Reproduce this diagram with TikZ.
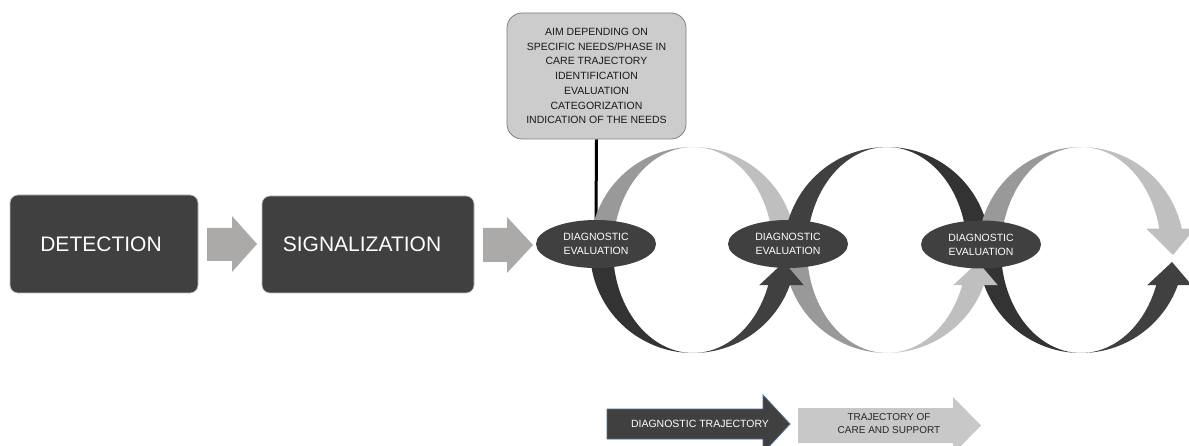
\documentclass[tikz,border=0pt]{standalone}
\usepackage{fontspec}
\setmainfont{Liberation Sans}
\usetikzlibrary{shapes.geometric,backgrounds}
\definecolor{boxdark}{HTML}{404040}
\definecolor{rdark}{HTML}{333333}
\definecolor{rmid}{HTML}{999999}
\definecolor{rlight}{HTML}{BFBFBF}
\definecolor{blockarrow}{HTML}{ABAAA9}
\definecolor{aimfill}{HTML}{CCCCCC}
\definecolor{aimdraw}{HTML}{7F7F7F}
\definecolor{boxedge}{HTML}{BFBFBF}
\definecolor{trajedge}{HTML}{4E6E8E}
\definecolor{carefill}{HTML}{C8C8C8}
% crescent segment: cx, t1, t2, colour
\newcommand{\crsseg}[4]{%
  \fill[#4] plot[domain=#2:#3,samples=40,variable=\t] ({#1+103*cos(\t)},{250-103*sin(\t)})
    -- plot[domain=#3:#2,samples=40,variable=\t] ({#1+80*cos(\t)},{250-103*sin(\t)}) -- cycle;}
% upper half ending with a head pointing down: cx, colour
\newcommand{\crstop}[2]{%
  \fill[#2] plot[domain=90:12,samples=40,variable=\t] ({#1+103*cos(\t)},{250-103*sin(\t)})
    -- ({#1+103*cos(12)+13},{250-103*sin(12)}) -- ({#1+92},255)
    -- ({#1+80*cos(12)-13},{250-103*sin(12)})
    -- plot[domain=12:90,samples=40,variable=\t] ({#1+80*cos(\t)},{250-103*sin(\t)}) -- cycle;}
% lower half ending with a head pointing up: cx, colour
\newcommand{\crsbot}[2]{%
  \fill[#2] plot[domain=270:340,samples=40,variable=\t] ({#1+103*cos(\t)},{250-103*sin(\t)})
    -- ({#1+103*cos(340)+14},{250-103*sin(340)}) -- ({#1+91},262)
    -- ({#1+80*cos(340)-9},{250-103*sin(340)})
    -- plot[domain=340:270,samples=40,variable=\t] ({#1+80*cos(\t)},{250-103*sin(\t)}) -- cycle;}
\tikzset{
  stagebox/.style={rectangle, rounded corners=8pt, fill=boxdark, draw=boxedge, line width=0.6pt,
    text=white, font=\fontsize{21}{25}\selectfont},
  aimbox/.style={rectangle, rounded corners=15pt, fill=aimfill, draw=aimdraw, line width=0.8pt,
    align=center, text=black!90, font=\fontsize{10.5}{14.7}\selectfont},
  evalnode/.style={ellipse, fill=boxdark, text=white, inner sep=0pt, minimum width=120pt,
    minimum height=48pt, align=center, font=\fontsize{10.5}{14}\selectfont},
  blockarr/.style={fill=blockarrow},
  trajlabel/.style={align=center, inner sep=0pt},
}
\begin{document}
\begin{tikzpicture}[x=1pt,y=-1pt]
\clip (0,0) rectangle (1189,446);
% stages
\node[stagebox, minimum width=188pt, minimum height=98pt] (det) at (104,244) {DETECTION\kern6pt};
\node[stagebox, minimum width=212pt, minimum height=97pt] (sig) at (368,244.5) {SIGNALIZATION\kern12pt};
\fill[blockarr] (207,228) -- (232,228) -- (232,216) -- (257,244) -- (232,272) -- (232,261) -- (207,261) -- cycle;
\fill[blockarr] (483,228) -- (507,228) -- (507,217) -- (533,245) -- (507,273) -- (507,262) -- (483,262) -- cycle;
% aim box
\node[aimbox, minimum width=179pt, minimum height=126pt] (aim) at (596.5,76)
  {AIM DEPENDING ON\\SPECIFIC NEEDS/PHASE IN\\CARE TRAJECTORY\\IDENTIFICATION\\EVALUATION\\CATEGORIZATION\\INDICATION OF THE NEEDS};
% loops: upper halves
\crsseg{693}{180}{90}{rmid}
\crstop{693}{rlight}
\crsseg{887}{180}{90}{boxdark}
\crstop{887}{rdark}
\crsseg{1081}{180}{90}{rmid}
\crstop{1081}{rlight}
% loops: lower halves
\crsseg{1081}{180}{270}{rdark}
\crsbot{1081}{boxdark}
\crsseg{887}{180}{270}{rmid}
\crsbot{887}{rlight}
\crsseg{693}{180}{270}{rdark}
\crsbot{693}{boxdark}
% evaluations
\node[evalnode] (e1) at (596,244) {DIAGNOSTIC\\EVALUATION};
\node[evalnode] (e2) at (788,244) {DIAGNOSTIC\\EVALUATION};
\node[evalnode] (e3) at (981,244.5) {DIAGNOSTIC\\EVALUATION};
\begin{pgfonlayer}{background}
\draw[line width=3pt] (aim.south) -- (e1.north);
\end{pgfonlayer}
% trajectories
\fill[boxdark, draw=trajedge, line width=0.8pt] (607,409) -- (763,409) -- (763,395) -- (790,424) -- (763,453) -- (763,439) -- (607,439) -- cycle;
\node[trajlabel, text=white, font=\fontsize{10.5}{13}\selectfont] (dt) at (700,424) {DIAGNOSTIC TRAJECTORY};
\fill[carefill] (798,408) -- (953,408) -- (953,397) -- (981,425.5) -- (953,454) -- (953,443) -- (798,443) -- cycle;
\node[trajlabel, text=black!85, font=\fontsize{10}{13}\selectfont] (tc) at (889,424) {TRAJECTORY OF\\CARE AND SUPPORT};
\end{tikzpicture}
\end{document}
